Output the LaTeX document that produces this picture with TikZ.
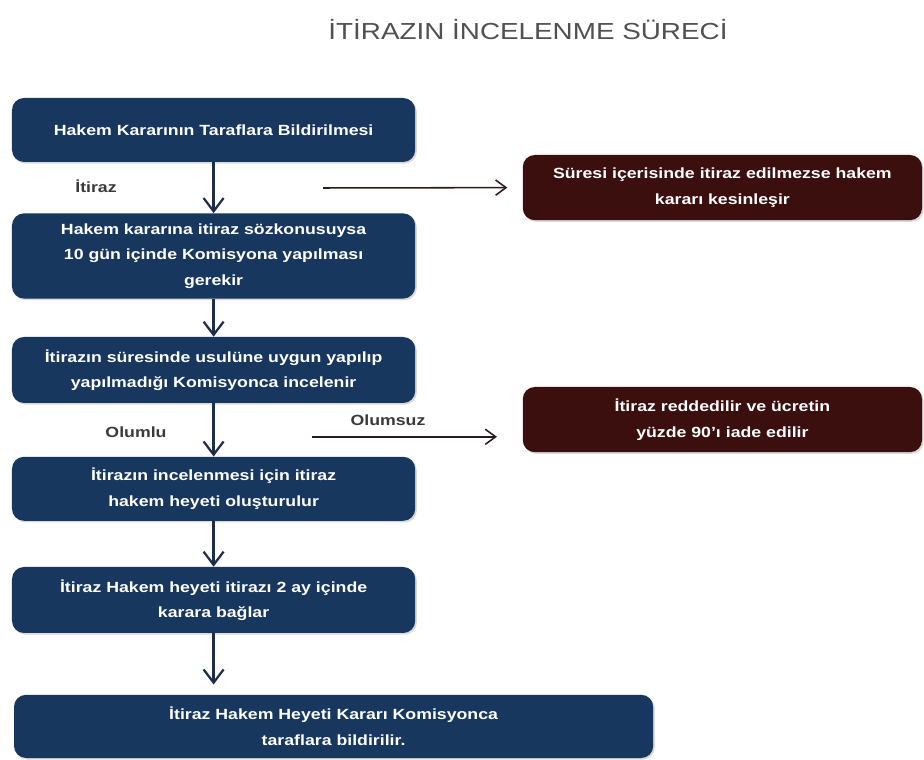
\documentclass[tikz,border=0pt]{standalone}
\usepackage{fontspec}
\setmainfont{Liberation Sans}[FakeStretch=1.2]
\usetikzlibrary{arrows.meta, shadows}
\definecolor{lacivert}{HTML}{17375E}
\definecolor{bordo}{HTML}{3C0F0F}
\definecolor{oklacivert}{HTML}{1F2E48}
\definecolor{okkahve}{HTML}{2B1C1C}
\definecolor{baslikgri}{HTML}{505050}
\definecolor{etiketgri}{HTML}{3A3A3A}
\tikzset{
  kutu/.style={rounded corners=0.3cm, fill=lacivert, text=white, align=center,
    inner sep=0pt, minimum width=10.08cm, minimum height=1.6cm,
    font=\fontsize{10.5}{18}\selectfont\bfseries,
    drop shadow={shadow xshift=0.04cm, shadow yshift=-0.04cm, opacity=0.3}},
  sonuc/.style={kutu, fill=bordo, minimum width=9.98cm, minimum height=1.63cm},
  ok/.style={line width=1.6pt, oklacivert, -{Straight Barb[length=3.3mm,width=5mm]}},
  yanok/.style={line width=1.1pt, okkahve, -{Straight Barb[length=2.6mm,width=3.8mm]}},
  etiket/.style={text=etiketgri, font=\fontsize{10.5}{12}\selectfont\bfseries}
}

\begin{document}
\begin{tikzpicture}
\useasboundingbox (0,0) rectangle (23.1,19);
\node[text=baslikgri, font=\fontsize{16.5}{18}\selectfont] (baslik) at (13.2,18.25) {İTİRAZIN İNCELENME SÜRECİ};
% sol sutun
\node[kutu] (bildirim) at (5.34,15.75) {Hakem Kararının Taraflara Bildirilmesi};
\node[kutu, minimum height=2.13cm] (itiraz) at (5.34,12.6) {Hakem kararına itiraz sözkonusuysa\\10 gün içinde Komisyona yapılması\\gerekir};
\node[kutu, minimum height=1.65cm] (sure) at (5.34,9.75) {İtirazın süresinde usulüne uygun yapılıp\\yapılmadığı Komisyonca incelenir};
\node[kutu] (heyet) at (5.34,6.78) {İtirazın incelenmesi için itiraz\\hakem heyeti oluşturulur};
\node[kutu, minimum height=1.65cm] (karar) at (5.34,4.0) {İtiraz Hakem heyeti itirazı 2 ay içinde\\karara bağlar};
\node[kutu, minimum width=15.98cm, minimum height=1.58cm] (teblig) at (8.34,0.84) {İtiraz Hakem Heyeti Kararı Komisyonca\\taraflara bildirilir.};
% sag sutun
\node[sonuc] (kesin) at (18.06,14.31) {Süresi içerisinde itiraz edilmezse hakem\\kararı kesinleşir};
\node[sonuc] (red) at (18.06,8.51) {İtiraz reddedilir ve ücretin\\yüzde 90'ı iade edilir};
% oklar
\draw[ok] (bildirim.south) -- (itiraz.north);
\draw[ok] (itiraz.south) -- (sure.north);
\draw[ok] (sure.south) -- (heyet.north);
\draw[ok] (heyet.south) -- (karar.north);
\draw[ok, shorten >=0.25cm] (karar.south) -- (karar.south |- teblig.north);
\coordinate (k1) at (8.08,14.3);
\coordinate (k2) at (7.8,8.08);
\draw[yanok, shorten >=0.38cm] (k1) -- (kesin.west);
\draw[yanok, shorten >=0.64cm] (k2) -- (k2 -| red.west);
\node[etiket] (litiraz) at (2.4,14.35) {İtiraz};
\node[etiket] (lolumlu) at (3.4,8.2) {Olumlu};
\node[etiket] (lolumsuz) at (9.7,8.5) {Olumsuz};
\end{tikzpicture}
\end{document}
